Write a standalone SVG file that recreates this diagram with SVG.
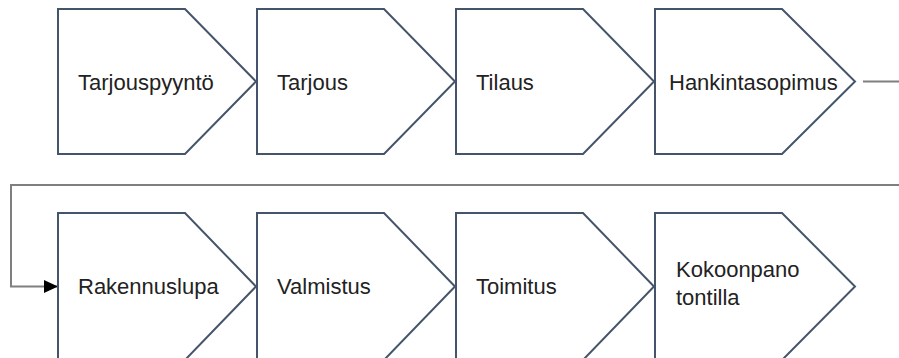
<svg xmlns="http://www.w3.org/2000/svg" width="899" height="358" viewBox="0 0 899 358">
<defs>
<style>
.n{fill:#fff;stroke:#44546a;stroke-width:2}
.t{font-family:"Liberation Sans",Arial,sans-serif;font-size:22px;fill:#222}
.c{fill:none;stroke:#7f7f7f;stroke-width:2}
</style>
<marker id="ah" viewBox="0 0 14 13" refX="14" refY="6.5" markerWidth="7" markerHeight="6.5" markerUnits="strokeWidth" orient="auto"><path d="M0,0L14,6.5L0,13z" fill="#000"/></marker>
</defs>
<g id="connectors">
<line class="c" x1="863" y1="81.5" x2="899" y2="81.5"/>
<path class="c" d="M899,185H11V286.5H58" marker-end="url(#ah)"/>
</g>
<g id="n1"><path class="n" d="M58,9H185L256,81.5L185,154H58Z"/><text class="t" x="78" y="90">Tarjouspyyntö</text></g>
<g id="n2"><path class="n" d="M257,9H384L455,81.5L384,154H257Z"/><text class="t" x="277" y="90">Tarjous</text></g>
<g id="n3"><path class="n" d="M456,9H583L654,81.5L583,154H456Z"/><text class="t" x="476" y="90">Tilaus</text></g>
<g id="n4"><path class="n" d="M655,9H782L855,81.5L782,154H655Z"/><text class="t" x="669" y="90">Hankintasopimus</text></g>
<g id="n5"><path class="n" d="M58,213H185L256,286.5L185,360H58Z"/><text class="t" x="78" y="294">Rakennuslupa</text></g>
<g id="n6"><path class="n" d="M257,213H384L455,286.5L384,360H257Z"/><text class="t" x="277" y="294">Valmistus</text></g>
<g id="n7"><path class="n" d="M456,213H583L654,286.5L583,360H456Z"/><text class="t" x="476" y="294">Toimitus</text></g>
<g id="n8"><path class="n" d="M655,213H782L855,286.5L782,360H655Z"/><text class="t" x="676" y="277">Kokoonpano</text><text class="t" x="676" y="305">tontilla</text></g>
</svg>
